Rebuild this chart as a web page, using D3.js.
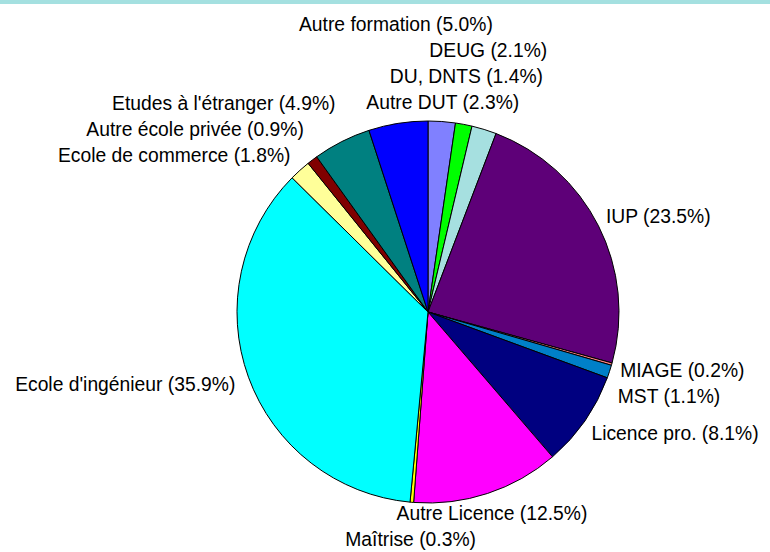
<!DOCTYPE html>
<html>
<head>
<meta charset="utf-8">
<script src="https://cdn.jsdelivr.net/npm/d3@7"></script>
<style>
  body { margin: 0; background: #fff; }
  svg { display: block; }
</style>
</head>
<body>
<svg id="chart" width="770" height="552"></svg>
<script>
const categories = ["Autre DUT", "DU, DNTS", "DEUG", "IUP", "MIAGE", "MST", "Licence pro.",
  "Autre Licence", "Maîtrise", "Ecole d'ingénieur", "Ecole de commerce",
  "Autre école privée", "Etudes à l'étranger", "Autre formation"];
const values = [2.3, 1.4, 2.1, 23.5, 0.2, 1.1, 8.1, 12.5, 0.3, 35.9, 1.8, 0.9, 4.9, 5.0];
const colors = ["#8080ff", "#00ff00", "#a6e0e0", "#5e0078", "#ff8080", "#0080c8", "#000080",
  "#ff00ff", "#ffff00", "#00ffff", "#ffff99", "#800000", "#008080", "#0000ff"];

const svg = d3.select("#chart");
const width = +svg.attr("width");
const cx = 428, cy = 312, r = 191;
const fs = 19.3;

// bande du haut
svg.append("rect")
  .attr("x", 0).attr("y", 0)
  .attr("width", width).attr("height", 4)
  .attr("fill", "#a4e0e0");

const data = categories.map((c, i) => ({ name: c, value: values[i], color: colors[i] }));

const pie = d3.pie().sort(null).value(d => d.value);
const arcs = pie(data);
const arc = d3.arc().innerRadius(0).outerRadius(r);

const g = svg.append("g").attr("transform", `translate(${cx},${cy})`);

g.selectAll("path")
  .data(arcs)
  .join("path")
  .attr("d", arc)
  .attr("fill", d => d.data.color)
  .attr("stroke", "#000")
  .attr("stroke-width", 1)
  .attr("stroke-linejoin", "round");

// Etiquettes (placement façon Excel, avec anti-chevauchement)
const R = r + 14;
const placed = [];
const lineH = Math.round(1.33 * fs);
const asc = Math.round(0.98 * fs);

arcs.forEach(d => {
  const a = (d.startAngle + d.endAngle) / 2;
  const s = Math.sin(a), c = Math.cos(a);
  const px = cx + R * s, py = cy - R * c;

  const t = svg.append("text")
    .attr("font-family", "'Liberation Sans', Arial, sans-serif")
    .attr("font-size", fs)
    .attr("fill", "#000")
    .text(`${d.data.name} (${d.data.value.toFixed(1)}%)`);
  const w = t.node().getComputedTextLength();

  let x0;
  if (Math.abs(s) < 0.4) x0 = px - w / 2;
  else if (s > 0) x0 = px - 5;
  else x0 = px - w;

  let base = Math.round(py + 0.36 * fs * (1 - c) + (c > 0.9 ? 1.5 : 0));
  const up = c > 0;
  const box = () => ({ x0, x1: x0 + w, y0: base - asc, y1: base - asc + lineH });

  let moved = true, n = 0;
  while (moved && n < 50) {
    moved = false;
    n++;
    const b = box();
    for (const p of placed) {
      if (b.x0 < p.x1 - 0.5 && b.x1 > p.x0 + 0.5 && b.y0 < p.y1 - 0.5 && b.y1 > p.y0 + 0.5) {
        if (up) base = p.y0 - lineH + asc;
        else base = p.y1 + asc;
        moved = true;
        break;
      }
    }
  }
  placed.push(box());
  t.attr("x", x0).attr("y", base);
});
</script>
</body>
</html>
